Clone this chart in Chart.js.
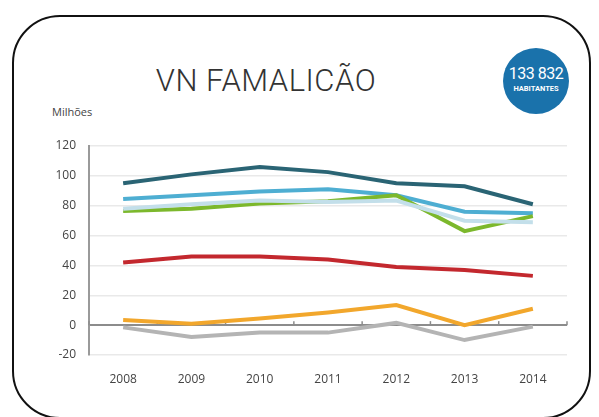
<!DOCTYPE html>
<html>
<head>
<meta charset="utf-8">
<script src="https://cdn.jsdelivr.net/npm/chart.js@4.4.1/dist/chart.umd.min.js"></script>
<style>
  html, body { margin: 0; padding: 0; background: #fff; }
  body { width: 599px; height: 417px; position: relative; overflow: hidden; font-family: "Open Sans", sans-serif; }
  #frame { position: absolute; left: 12px; top: 15px; width: 575px; height: 400px; border: 2px solid #111; border-radius: 48px; }
  #titulo { position: absolute; left: 0; width: 532px; top: 62px; text-align: center; font-family: Roboto, sans-serif; font-weight: 300; font-size: 31px; color: #333; letter-spacing: 0.5px; }
  #circulo { position: absolute; left: 503px; top: 48px; width: 66px; height: 66px; border-radius: 50%; background: #1a72ab; color: #fff; text-align: center; }
  #circulo .num { position: absolute; top: 16px; width: 100%; font-family: Roboto, sans-serif; font-size: 16px; letter-spacing: -0.5px; }
  #circulo .hab { position: absolute; top: 36px; width: 100%; font-family: Roboto, sans-serif; font-weight: 700; font-size: 7.5px; }
  #unidade { position: absolute; left: 52px; top: 104px; font-size: 11px; color: #444; }
  canvas { position: absolute; left: 0; top: 0; }
</style>
</head>
<body>
<div id="frame"></div>
<div id="titulo">VN FAMALICÃO</div>
<div id="circulo"><div class="num">133 832</div><div class="hab">HABITANTES</div></div>
<div id="unidade">Milhões</div>
<canvas id="line-chart" width="599" height="417"></canvas>
<script>
const anos = ["2008", "2009", "2010", "2011", "2012", "2013", "2014"];
const serieCinza = [-1.5, -8, -5, -5, 1.5, -10, -1];
const serieLaranja = [3.5, 1, 4.5, 8.5, 13.5, 0, 11];
const serieVermelha = [42, 46, 46, 44, 39, 37, 33];
const serieAzulClaro = [78, 81, 83.5, 82.5, 83.5, 70, 69];
const serieVerde = [76.5, 78, 81.5, 83, 87, 63, 73];
const serieAzul = [84.5, 87, 89.5, 91, 87, 76, 75];
const serieAzulEscuro = [95, 101, 106, 102.5, 95, 93, 81];
const ticksY = [-20, 0, 20, 40, 60, 80, 100, 120];

function linha(dados, cor) {
    return {
        data: dados,
        borderColor: cor,
        borderWidth: 4,
        pointRadius: 0,
        tension: 0,
        fill: false,
    };
}

// marcas pequenas na linha do zero
const marcasZero = {
    id: "marcasZero",
    beforeDatasetsDraw(chart) {
        const x = chart.scales.x, y = chart.scales.y;
        const ctx = chart.ctx;
        const y0 = y.getPixelForValue(0);
        const passo = x.getPixelForValue(1) - x.getPixelForValue(0);
        ctx.save();
        ctx.strokeStyle = "#8c8c8c";
        ctx.lineWidth = 1.5;
        for (let i = 0; i <= anos.length; i++) {
            const px = x.getPixelForValue(0) - passo / 2 + i * passo;
            ctx.beginPath();
            ctx.moveTo(px, y0);
            ctx.lineTo(px, y0 - 4);
            ctx.stroke();
        }
        ctx.restore();
    }
};

const contenedorLinha = document.querySelector("#line-chart").getContext("2d");

const lineChart = new Chart(contenedorLinha, {
    type: "line",
    data: {
        labels: anos,
        datasets: [
            linha(serieCinza, "#b4b4b4"),
            linha(serieLaranja, "#f2a72c"),
            linha(serieVermelha, "#c3282e"),
            linha(serieAzulClaro, "#c3dfea"),
            linha(serieVerde, "#7cb82c"),
            linha(serieAzul, "#4eaed2"),
            linha(serieAzulEscuro, "#2a6474"),
        ]
    },
    options: {
        responsive: false,
        animation: false,
        layout: { padding: { left: 40, right: 32, top: 146, bottom: 20 } },
        plugins: { legend: { display: false }, tooltip: { enabled: false } },
        scales: {
            x: {
                offset: true,
                grid: { display: false },
                border: { display: false },
                ticks: { padding: 9, color: "#444", font: { family: "Open Sans", size: 12 } },
                afterFit(scale) { scale.height = 42; }
            },
            y: {
                min: -20,
                max: 120,
                afterBuildTicks(scale) { scale.ticks = ticksY.map(v => ({ value: v })); },
                grid: {
                    drawTicks: false,
                    color: c => c.tick && c.tick.value === 0 ? "#8c8c8c" : "#e9e9e9",
                    lineWidth: c => c.tick && c.tick.value === 0 ? 2 : 1.5,
                },
                border: { color: "#9a9a9a", width: 2 },
                ticks: { padding: 13, color: "#444", font: { family: "Open Sans", size: 12 } },
                afterFit(scale) { scale.width = 49; }
            }
        }
    },
    plugins: [marcasZero]
});
</script>
</body>
</html>
